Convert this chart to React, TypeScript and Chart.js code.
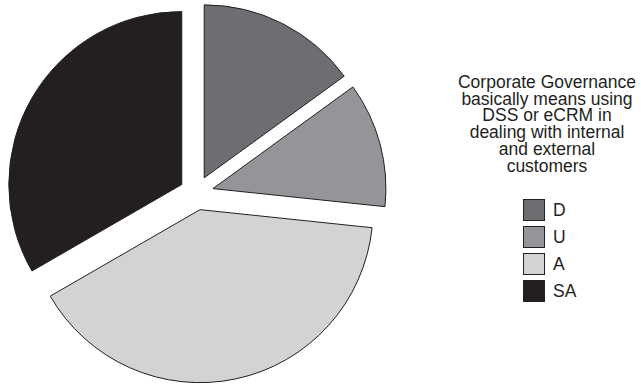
import React, { useEffect, useRef } from "react";
import { Chart, registerables } from "chart.js";

Chart.register(...registerables);

const categories = ["D", "U", "A", "SA"];
const values = [45, 35, 120, 100];
const colors = ["#6d6e71", "#939598", "#d1d3d4", "#231f20"];
const titleLines = [
  "Corporate Governance",
  "basically means using",
  "DSS or eCRM in",
  "dealing with internal",
  "and external",
  "customers",
];

const EXPLODE = 17;
const FONT = '"Liberation Sans", Arial, Helvetica, sans-serif';

const explodePlugin = {
  id: "explodeSlices",
  beforeDatasetDraw(chart: any, args: any) {
    const ctx = chart.ctx;
    args.meta.data.forEach((arc: any) => {
      const mid = (arc.startAngle + arc.endAngle) / 2;
      ctx.save();
      ctx.translate(Math.cos(mid) * EXPLODE, Math.sin(mid) * EXPLODE);
      arc.draw(ctx, chart.chartArea);
      ctx.restore();
    });
    return false;
  },
};

export default function App() {
  const canvasRef = useRef<HTMLCanvasElement | null>(null);

  useEffect(() => {
    if (!canvasRef.current) return;
    const chart = new Chart(canvasRef.current, {
      type: "pie",
      data: {
        labels: categories,
        datasets: [
          {
            data: values,
            backgroundColor: colors,
            borderColor: "#231f20",
            borderWidth: 1,
          },
        ],
      },
      options: {
        responsive: false,
        animation: false,
        events: [],
        radius: 173,
        layout: { padding: 0 },
        plugins: {
          legend: { display: false },
          tooltip: { enabled: false },
          title: { display: false },
        },
      } as any,
      plugins: [explodePlugin as any],
    });
    return () => chart.destroy();
  }, []);

  return (
    <div
      style={{
        position: "absolute",
        left: 0,
        top: 0,
        width: 641,
        height: 387,
        background: "#fff",
        fontFamily: FONT,
        color: "#231f20",
        overflow: "hidden",
      }}
    >
      <canvas
        ref={canvasRef}
        width={393}
        height={386}
        style={{ position: "absolute", left: 0, top: 0 }}
      />
      <div
        style={{
          position: "absolute",
          left: 447,
          top: 74,
          width: 200,
          textAlign: "center",
          fontSize: 17.5,
          lineHeight: "16.7px",
        }}
      >
        {titleLines.map((t, i) => (
          <div key={i} style={{ whiteSpace: "nowrap" }}>
            {t}
          </div>
        ))}
      </div>
      {categories.map((c, i) => (
        <div
          key={c}
          style={{
            position: "absolute",
            left: 523,
            top: 199 + i * 27,
            height: 22,
            display: "flex",
            alignItems: "center",
            fontSize: 17.5,
            lineHeight: "22px",
          }}
        >
          <div
            style={{
              width: 22,
              height: 22,
              boxSizing: "border-box",
              background: colors[i],
              border: "1px solid #231f20",
              marginRight: 8,
            }}
          />
          <span>{c}</span>
        </div>
      ))}
    </div>
  );
}
